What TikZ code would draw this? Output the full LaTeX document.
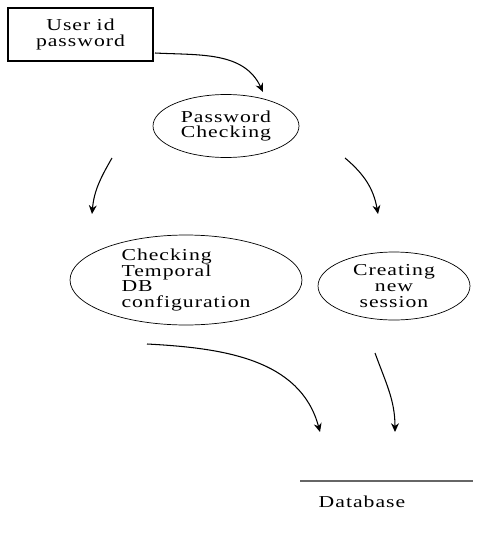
\documentclass[tikz,border=0pt]{standalone}
\usepackage{fontspec}
\setmainfont[FakeStretch=1.3,LetterSpace=6]{Liberation Serif}
\usetikzlibrary{shapes.geometric,arrows.meta,positioning}

\begin{document}
\begin{tikzpicture}[x=0.02cm,y=-0.02cm,
  every node/.style={font=\fontsize{9.5}{9}\selectfont},
  inbox/.style={draw,rectangle,minimum width=2.9cm,minimum height=1.06cm,align=center},
  proc/.style={draw,ellipse,inner sep=0pt},
  flow/.style={-{Stealth[length=5pt,width=4.5pt]},line width=0.6pt}]
 \useasboundingbox (0,0) rectangle (490,534);

 % boxes and processes
 \node (user) at (80.5,34.5) [inbox,line width=0.8pt] {User id\\password};
 \node (pwd) at (226,126) [proc,minimum width=2.92cm,minimum height=1.26cm,align=center] {Password\\Checking};
 \node (tdb) at (186,280) [proc,minimum width=4.64cm,minimum height=1.8cm,align=left] {Checking\\Temporal\\DB\\configuration};
 \node (sess) at (394,286) [proc,minimum width=3.04cm,minimum height=1.36cm,align=center] {Creating\\new\\session};

 % database store
 \coordinate (db1) at (300,481);
 \coordinate (db2) at (473,481);
 \draw[line width=0.8pt,gray!80!black] (db1) -- (db2);
 \node (db) at (362,502) {Database};

 % free ends of the connectors
 \coordinate (a0) at (155,53);
 \coordinate (a1) at (263,92);
 \coordinate (b0) at (112,158);
 \coordinate (b1) at (92,214);
 \coordinate (c0) at (345,158);
 \coordinate (c1) at (378,214);
 \coordinate (d0) at (147,344);
 \coordinate (d1) at (320,432);
 \coordinate (e0) at (375,353);
 \coordinate (e1) at (395,432);

 % connectors
 \draw[flow] (a0) to[out=-3,in=115] (a1);
 \draw[flow] (b0) to[out=-120,in=85] (b1);
 \draw[flow] (c0) to[out=-40,in=100] (c1);
 \draw[flow] (d0) to[out=-3,in=105] (d1);
 \draw[flow] (e0) to[out=-70,in=90] (e1);
\end{tikzpicture}
\end{document}
